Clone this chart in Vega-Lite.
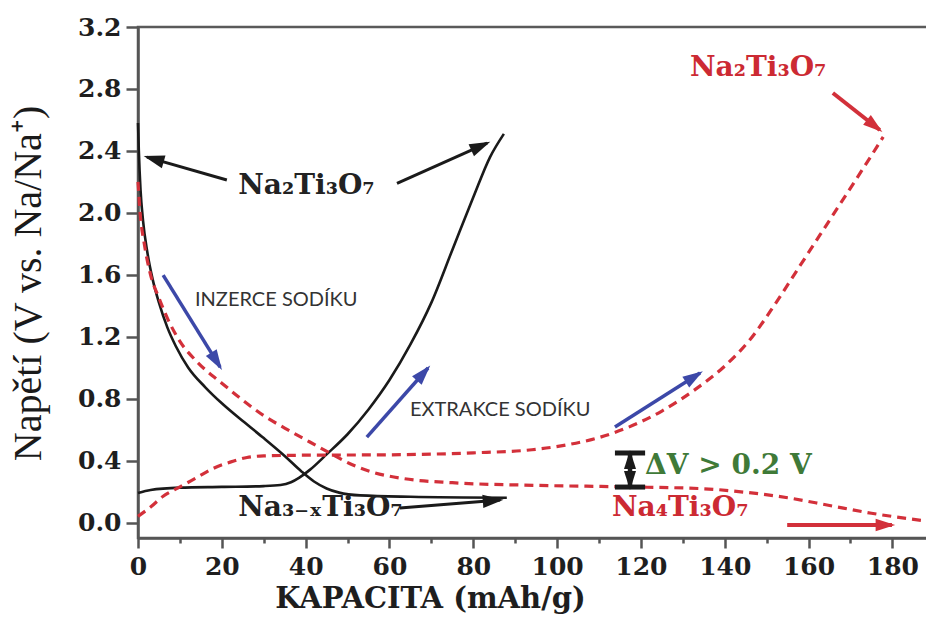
{
  "$schema": "https://vega.github.io/schema/vega-lite/v6.json",
  "width": 790,
  "height": 511,
  "autosize": {"type": "none"},
  "padding": {"left": 138, "top": 27, "right": 0, "bottom": 79},
  "background": "white",
  "config": {"view": {"stroke": "#5a5a5a", "strokeWidth": 2.5}},
  "datasets": {
    "curves": [
      {"s": "vyb1", "i": 1, "x": 0, "y": 2.58}, {"s": "vyb1", "i": 2, "x": 0.2, "y": 2.4}, {"s": "vyb1", "i": 3, "x": 0.6, "y": 2.15}, {"s": "vyb1", "i": 4, "x": 1.2, "y": 1.95}, {"s": "vyb1", "i": 5, "x": 2.2, "y": 1.75}, {"s": "vyb1", "i": 6, "x": 3.5, "y": 1.57}, {"s": "vyb1", "i": 7, "x": 5, "y": 1.42}, {"s": "vyb1", "i": 8, "x": 7, "y": 1.26}, {"s": "vyb1", "i": 9, "x": 9, "y": 1.14}, {"s": "vyb1", "i": 10, "x": 12, "y": 1.0}, {"s": "vyb1", "i": 11, "x": 16, "y": 0.875}, {"s": "vyb1", "i": 12, "x": 20, "y": 0.77}, {"s": "vyb1", "i": 13, "x": 25, "y": 0.655}, {"s": "vyb1", "i": 14, "x": 30, "y": 0.545}, {"s": "vyb1", "i": 15, "x": 35, "y": 0.43}, {"s": "vyb1", "i": 16, "x": 39, "y": 0.33}, {"s": "vyb1", "i": 17, "x": 42, "y": 0.265}, {"s": "vyb1", "i": 18, "x": 45, "y": 0.22}, {"s": "vyb1", "i": 19, "x": 48, "y": 0.193}, {"s": "vyb1", "i": 20, "x": 53, "y": 0.175}, {"s": "vyb1", "i": 21, "x": 65, "y": 0.166}, {"s": "vyb1", "i": 22, "x": 88, "y": 0.16},
      {"s": "nab1", "i": 1, "x": 0, "y": 0.19}, {"s": "nab1", "i": 2, "x": 3, "y": 0.21}, {"s": "nab1", "i": 3, "x": 10, "y": 0.225}, {"s": "nab1", "i": 4, "x": 20, "y": 0.23}, {"s": "nab1", "i": 5, "x": 30, "y": 0.235}, {"s": "nab1", "i": 6, "x": 34, "y": 0.242}, {"s": "nab1", "i": 7, "x": 36.5, "y": 0.26}, {"s": "nab1", "i": 8, "x": 38.5, "y": 0.29}, {"s": "nab1", "i": 9, "x": 41, "y": 0.34}, {"s": "nab1", "i": 10, "x": 45, "y": 0.44}, {"s": "nab1", "i": 11, "x": 50, "y": 0.57}, {"s": "nab1", "i": 12, "x": 55, "y": 0.73}, {"s": "nab1", "i": 13, "x": 60, "y": 0.92}, {"s": "nab1", "i": 14, "x": 65, "y": 1.15}, {"s": "nab1", "i": 15, "x": 70, "y": 1.42}, {"s": "nab1", "i": 16, "x": 75, "y": 1.76}, {"s": "nab1", "i": 17, "x": 80, "y": 2.1}, {"s": "nab1", "i": 18, "x": 84, "y": 2.36}, {"s": "nab1", "i": 19, "x": 87.3, "y": 2.51},
      {"s": "vyb2", "i": 1, "x": 0, "y": 2.2}, {"s": "vyb2", "i": 2, "x": 0.5, "y": 2.0}, {"s": "vyb2", "i": 3, "x": 1.5, "y": 1.8}, {"s": "vyb2", "i": 4, "x": 3, "y": 1.6}, {"s": "vyb2", "i": 5, "x": 5, "y": 1.45}, {"s": "vyb2", "i": 6, "x": 7, "y": 1.32}, {"s": "vyb2", "i": 7, "x": 10, "y": 1.17}, {"s": "vyb2", "i": 8, "x": 14, "y": 1.04}, {"s": "vyb2", "i": 9, "x": 20, "y": 0.9}, {"s": "vyb2", "i": 10, "x": 25, "y": 0.79}, {"s": "vyb2", "i": 11, "x": 30, "y": 0.69}, {"s": "vyb2", "i": 12, "x": 35, "y": 0.61}, {"s": "vyb2", "i": 13, "x": 41, "y": 0.52}, {"s": "vyb2", "i": 14, "x": 46, "y": 0.445}, {"s": "vyb2", "i": 15, "x": 51, "y": 0.375}, {"s": "vyb2", "i": 16, "x": 56, "y": 0.325}, {"s": "vyb2", "i": 17, "x": 63, "y": 0.285}, {"s": "vyb2", "i": 18, "x": 75, "y": 0.257}, {"s": "vyb2", "i": 19, "x": 95, "y": 0.24}, {"s": "vyb2", "i": 20, "x": 117, "y": 0.23}, {"s": "vyb2", "i": 21, "x": 135, "y": 0.218}, {"s": "vyb2", "i": 22, "x": 145, "y": 0.195}, {"s": "vyb2", "i": 23, "x": 155, "y": 0.16}, {"s": "vyb2", "i": 24, "x": 165, "y": 0.11}, {"s": "vyb2", "i": 25, "x": 175, "y": 0.06}, {"s": "vyb2", "i": 26, "x": 188, "y": 0.01},
      {"s": "nab2", "i": 1, "x": 0, "y": 0.04}, {"s": "nab2", "i": 2, "x": 3, "y": 0.1}, {"s": "nab2", "i": 3, "x": 6, "y": 0.17}, {"s": "nab2", "i": 4, "x": 10, "y": 0.23}, {"s": "nab2", "i": 5, "x": 14, "y": 0.29}, {"s": "nab2", "i": 6, "x": 18, "y": 0.35}, {"s": "nab2", "i": 7, "x": 22, "y": 0.39}, {"s": "nab2", "i": 8, "x": 26, "y": 0.42}, {"s": "nab2", "i": 9, "x": 30, "y": 0.43}, {"s": "nab2", "i": 10, "x": 41, "y": 0.435}, {"s": "nab2", "i": 11, "x": 59, "y": 0.437}, {"s": "nab2", "i": 12, "x": 80, "y": 0.45}, {"s": "nab2", "i": 13, "x": 94, "y": 0.47}, {"s": "nab2", "i": 14, "x": 102, "y": 0.5}, {"s": "nab2", "i": 15, "x": 109.5, "y": 0.545}, {"s": "nab2", "i": 16, "x": 117, "y": 0.615}, {"s": "nab2", "i": 17, "x": 125, "y": 0.72}, {"s": "nab2", "i": 18, "x": 133, "y": 0.86}, {"s": "nab2", "i": 19, "x": 140, "y": 1.01}, {"s": "nab2", "i": 20, "x": 146, "y": 1.18}, {"s": "nab2", "i": 21, "x": 152, "y": 1.41}, {"s": "nab2", "i": 22, "x": 158, "y": 1.66}, {"s": "nab2", "i": 23, "x": 164, "y": 1.91}, {"s": "nab2", "i": 24, "x": 170, "y": 2.16}, {"s": "nab2", "i": 25, "x": 175, "y": 2.37}, {"s": "nab2", "i": 26, "x": 177.8, "y": 2.49}
    ],
    "arrows": [
      {"g": "blk", "x": 21.2, "y": 2.212, "x2": 2.15, "y2": 2.36},
      {"g": "blk", "x": 61.8, "y": 2.19, "x2": 83.3, "y2": 2.45},
      {"g": "blk", "x": 62.5, "y": 0.094, "x2": 86.4, "y2": 0.145},
      {"g": "blu", "x": 6.0, "y": 1.598, "x2": 19.6, "y2": 1.004},
      {"g": "blu", "x": 54.6, "y": 0.552, "x2": 69.2, "y2": 0.998},
      {"g": "blu", "x": 113.8, "y": 0.617, "x2": 134.1, "y2": 0.965},
      {"g": "red", "x": 154.9, "y": -0.016, "x2": 179.9, "y2": -0.016},
      {"g": "red", "x": 165.8, "y": 2.774, "x2": 177.0, "y2": 2.535},
      {"g": "dv", "x": 117.4, "y": 0.339, "x2": 117.4, "y2": 0.447},
      {"g": "dv", "x": 117.4, "y": 0.339, "x2": 117.4, "y2": 0.231},
      {"g": "cap", "x": 113.8, "y": 0.449, "x2": 121.0, "y2": 0.449},
      {"g": "cap", "x": 113.8, "y": 0.229, "x2": 121.0, "y2": 0.229}
    ],
    "formulas": [
      {"t": "Na₂Ti₃O₇", "g": "blk", "x": 23.9, "y": 2.176},
      {"t": "Na₃₋ₓTi₃O₇", "g": "blk", "x": 23.9, "y": 0.094},
      {"t": "Na₄Ti₃O₇", "g": "red", "x": 113.1, "y": 0.094},
      {"t": "Na₂Ti₃O₇", "g": "red", "x": 131.7, "y": 2.935},
      {"t": "ΔV > 0.2 V", "g": "grn", "x": 121.0, "y": 0.365}
    ],
    "notes": [
      {"t": "INZERCE SODÍKU", "x": 13.6, "y": 1.44},
      {"t": "EXTRAKCE SODÍKU", "x": 64.9, "y": 0.727}
    ]
  },
  "resolve": {"scale": {"color": "independent", "size": "independent", "strokeWidth": "independent"}},
  "layer": [
    {
      "data": {"name": "curves"},
      "transform": [{"filter": "datum.s == 'vyb1' || datum.s == 'nab1'"}],
      "mark": {"type": "line", "color": "#1a1a1a", "strokeWidth": 2.6, "interpolate": "monotone"},
      "encoding": {
        "x": {
          "field": "x", "type": "quantitative",
          "scale": {"domain": [0, 188.5], "nice": false, "zero": false},
          "axis": {
            "title": "KAPACITA (mAh/g)",
            "values": [0, 10, 20, 30, 40, 50, 60, 70, 80, 90, 100, 110, 120, 130, 140, 150, 160, 170, 180],
            "labelExpr": "datum.value % 20 == 0 ? format(datum.value, 'd') : ''",
            "tickSize": {"condition": {"test": "datum.value % 20 == 0", "value": 10}, "value": 5},
            "grid": false,
            "domainColor": "#555", "domainWidth": 2.5,
            "tickColor": "#555", "tickWidth": 2.5,
            "labelFont": "DejaVu Serif", "labelFontWeight": "bold", "labelFontSize": 25, "labelColor": "#1e1e1e",
            "labelPadding": 6, "labelFlush": false, "labelOverlap": false,
            "titleFont": "DejaVu Serif", "titleFontWeight": "bold", "titleFontSize": 29, "titleColor": "#1e1e1e",
            "titleX": 292, "titleY": 60, "titleAlign": "center", "titleBaseline": "middle", "titleAnchor": null
          }
        },
        "y": {
          "field": "y", "type": "quantitative",
          "scale": {"domain": [-0.1, 3.2], "nice": false, "zero": false},
          "axis": {
            "title": "Napětí (V vs. Na/Na⁺)",
            "values": [0, 0.2, 0.4, 0.6, 0.8, 1.0, 1.2, 1.4, 1.6, 1.8, 2.0, 2.2, 2.4, 2.6, 2.8, 3.0, 3.2],
            "labelExpr": "round(datum.value * 5) % 2 == 0 ? format(datum.value, '.1f') : ''",
            "tickSize": {"condition": {"test": "round(datum.value * 5) % 2 == 0", "value": 12}, "value": 6},
            "grid": false,
            "domainColor": "#555", "domainWidth": 2.5,
            "tickColor": "#555", "tickWidth": 2.5,
            "labelFont": "DejaVu Serif", "labelFontWeight": "bold", "labelFontSize": 25, "labelColor": "#1e1e1e",
            "labelPadding": 5, "labelFlush": false, "labelOverlap": false,
            "titleFont": "Liberation Serif", "titleFontWeight": "normal", "titleFontSize": 40, "titleColor": "#1a1a1a",
            "titleX": -110, "titleY": 256, "titleAlign": "center", "titleBaseline": "middle", "titleAngle": -90
          }
        },
        "detail": {"field": "s"},
        "order": {"field": "i", "type": "quantitative"}
      }
    },
    {
      "data": {"name": "curves"},
      "transform": [{"filter": "datum.s == 'vyb2' || datum.s == 'nab2'"}],
      "mark": {"type": "line", "color": "#d3303a", "strokeWidth": 3.2, "strokeDash": [9, 6], "interpolate": "monotone"},
      "encoding": {
        "x": {"field": "x", "type": "quantitative", "scale": {"domain": [0, 188.5], "nice": false, "zero": false}},
        "y": {"field": "y", "type": "quantitative", "scale": {"domain": [-0.1, 3.2], "nice": false, "zero": false}},
        "detail": {"field": "s"},
        "order": {"field": "i", "type": "quantitative"}
      }
    },
    {
      "data": {"name": "arrows"},
      "mark": {"type": "rule", "strokeCap": "butt"},
      "encoding": {
        "x": {"field": "x", "type": "quantitative", "scale": {"domain": [0, 188.5], "nice": false, "zero": false}},
        "y": {"field": "y", "type": "quantitative", "scale": {"domain": [-0.1, 3.2], "nice": false, "zero": false}},
        "x2": {"field": "x2"},
        "y2": {"field": "y2"},
        "color": {"field": "g", "type": "nominal", "scale": {"domain": ["blk", "blu", "red", "dv", "cap"], "range": ["#1a1a1a", "#3c48a8", "#d2303a", "#1a1a1a", "#1a1a1a"]}, "legend": null},
        "strokeWidth": {"field": "g", "type": "ordinal", "scale": {"domain": ["blk", "blu", "red", "dv", "cap"], "range": [3, 5, 3, 2.5, 2.5]}, "legend": null}
      }
    },
    {
      "data": {"name": "arrows"},
      "transform": [
        {"filter": "datum.g != 'cap'"},
        {"calculate": "atan2((datum.x2 - datum.x) * 4.191, (datum.y2 - datum.y) * 154.85) * 180 / PI", "as": "ang"}
      ],
      "mark": {"type": "point", "filled": true, "opacity": 1, "shape": "M0,-0.2L0.38,1L-0.38,1Z"},
      "encoding": {
        "x": {"field": "x2", "type": "quantitative", "scale": {"domain": [0, 188.5], "nice": false, "zero": false}},
        "y": {"field": "y2", "type": "quantitative", "scale": {"domain": [-0.1, 3.2], "nice": false, "zero": false}},
        "angle": {"field": "ang", "type": "quantitative", "scale": null},
        "color": {"field": "g", "type": "nominal", "scale": {"domain": ["blk", "blu", "red", "dv"], "range": ["#1a1a1a", "#3c48a8", "#d2303a", "#1a1a1a"]}, "legend": null},
        "size": {"field": "g", "type": "ordinal", "scale": {"domain": ["blk", "blu", "red", "dv"], "range": [1200, 1000, 900, 160]}, "legend": null}
      }
    },
    {
      "data": {"name": "formulas"},
      "mark": {"type": "text", "font": "DejaVu Serif", "fontWeight": "bold", "align": "left", "baseline": "middle"},
      "encoding": {
        "x": {"field": "x", "type": "quantitative", "scale": {"domain": [0, 188.5], "nice": false, "zero": false}},
        "y": {"field": "y", "type": "quantitative", "scale": {"domain": [-0.1, 3.2], "nice": false, "zero": false}},
        "text": {"field": "t"},
        "color": {"field": "g", "type": "nominal", "scale": {"domain": ["blk", "red", "grn"], "range": ["#222222", "#cc2a33", "#3f7a38"]}, "legend": null},
        "size": {"field": "g", "type": "ordinal", "scale": {"domain": ["blk", "red", "grn"], "range": [28, 28, 30]}, "legend": null}
      }
    },
    {
      "data": {"name": "notes"},
      "mark": {"type": "text", "font": "Lato", "fontSize": 20, "align": "left", "baseline": "middle", "color": "#333333"},
      "encoding": {
        "x": {"field": "x", "type": "quantitative", "scale": {"domain": [0, 188.5], "nice": false, "zero": false}},
        "y": {"field": "y", "type": "quantitative", "scale": {"domain": [-0.1, 3.2], "nice": false, "zero": false}},
        "text": {"field": "t"}
      }
    }
  ]
}
